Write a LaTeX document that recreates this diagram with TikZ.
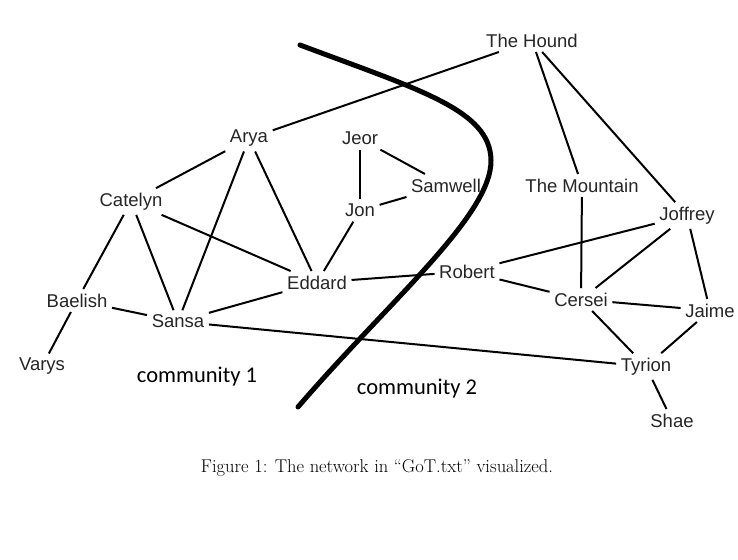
\documentclass[tikz,border=0pt]{standalone}
\usepackage{fontspec}
\setmainfont{Latin Modern Roman}
\newfontfamily\nodefont{Liberation Sans}
\newfontfamily\commfont{Carlito}
\begin{document}
\begin{tikzpicture}[x=1pt,y=-1pt,
  person/.style={font=\nodefont\fontsize{18.5}{21}\selectfont, text=black!85, inner sep=4.5pt, yshift=-1.5pt},
  comm/.style={font=\commfont\fontsize{22.5}{25}\selectfont, inner sep=0pt},
  edge/.style={line width=2pt, black}]
\useasboundingbox (0,0) rectangle (738,559);
\fill[white] (0,0) rectangle (738,559);
\node[person] (hound) at (532,39) {The Hound};
\node[person] (arya) at (249,137) {Arya};
\node[person] (jeor) at (360,137) {Jeor};
\node[person] (samwell) at (446,184) {Samwell};
\node[person] (catelyn) at (131,200) {Catelyn};
\node[person] (jon) at (360,209) {Jon};
\node[person] (mountain) at (582,184) {The Mountain};
\node[person] (joffrey) at (687,214) {Joffrey};
\node[person] (eddard) at (317,281) {Eddard};
\node[person] (robert) at (467,270) {Robert};
\node[person] (baelish) at (77,299) {Baelish};
\node[person] (sansa) at (178,320) {Sansa};
\node[person] (cersei) at (581,298) {Cersei};
\node[person] (jaime) at (710,309) {Jaime};
\node[person] (varys) at (42,365) {Varys};
\node[person] (tyrion) at (646,365) {Tyrion};
\node[person] (shae) at (672,419) {Shae};
\node[comm] (c1) at (197,377) {community 1};
\node[comm] (c2) at (417,389) {community 2};
\node[font=\fontsize{18.5}{21}\selectfont, inner sep=0pt] (cap) at (377,468) {Figure 1: The network in ``GoT.txt'' visualized.};
\foreach \a/\b in {hound/arya, hound/mountain, hound/joffrey, arya/catelyn, arya/sansa, arya/eddard,
  catelyn/baelish, catelyn/sansa, catelyn/eddard, jeor/jon, jeor/samwell, jon/samwell, jon/eddard,
  eddard/robert, eddard/sansa, baelish/sansa, baelish/varys, sansa/tyrion, robert/joffrey, robert/cersei,
  mountain/cersei, joffrey/cersei, joffrey/jaime, cersei/jaime, cersei/tyrion, jaime/tyrion, tyrion/shae}
  \draw[edge] (\a) -- (\b);
\draw[line width=5pt, line cap=round] (300,45) .. controls (420,90) and (490,110) .. (491,160)
  .. controls (492,215) and (390,300) .. (298,407);
\end{tikzpicture}
\end{document}
